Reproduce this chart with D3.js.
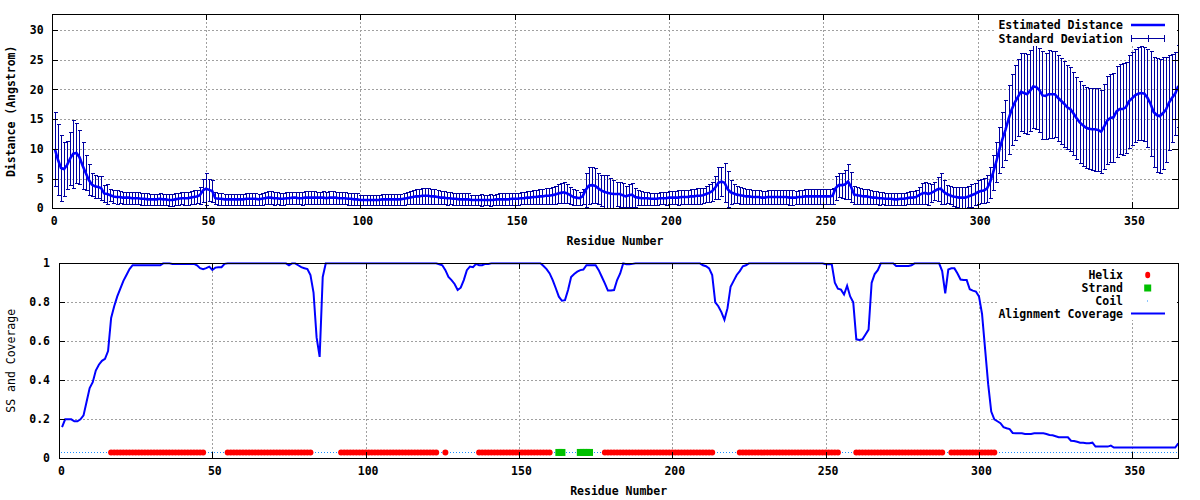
<!DOCTYPE html>
<html><head><meta charset="utf-8">
<script src="https://cdn.jsdelivr.net/npm/d3@7/dist/d3.min.js"></script>
<style>
body{margin:0;background:#fff}
text{font-family:"DejaVu Sans Mono","Liberation Mono",monospace;font-size:11.5px;font-weight:bold;fill:#000}
</style>
</head><body>
<svg id="c" width="1200" height="500"></svg>
<script>
// ---------------- DATA ----------------
const xTicks = [0, 50, 100, 150, 200, 250, 300, 350];
const distTicks = [0, 5, 10, 15, 20, 25, 30];
const covTicks = [0, 0.2, 0.4, 0.6, 0.8, 1];
const covTickLabels = ["0", "0.2", "0.4", "0.6", "0.8", "1"];

// Estimated distance (Angstrom), residues 1..365
const distanceMean = [
10.0,8.2,6.8,6.6,7.3,8.4,9.2,9.3,8.6,7.2,
6.0,4.8,4.0,3.7,3.6,3.4,2.5,2.4,2.2,2.0,
1.9,1.9,1.8,1.8,1.8,1.7,1.7,1.7,1.6,1.6,
1.5,1.5,1.5,1.5,1.6,1.5,1.5,1.4,1.4,1.5,
1.6,1.7,1.7,1.7,1.8,1.9,2.0,2.2,3.0,3.3,
3.1,2.9,1.7,1.6,1.6,1.5,1.5,1.5,1.5,1.5,
1.5,1.5,1.6,1.6,1.6,1.6,1.5,1.6,1.7,1.8,
1.8,1.7,1.7,1.6,1.6,1.7,1.7,1.8,1.8,1.7,
1.7,1.8,1.8,1.8,1.8,1.8,1.8,1.8,1.7,1.8,
1.8,1.8,1.7,1.7,1.7,1.6,1.6,1.5,1.5,1.4,
1.4,1.4,1.4,1.4,1.4,1.4,1.5,1.5,1.5,1.5,
1.5,1.5,1.5,1.6,1.7,1.8,1.9,2.0,2.0,2.1,
2.1,2.1,2.0,2.0,1.9,1.8,1.8,1.7,1.7,1.6,
1.6,1.5,1.5,1.5,1.5,1.4,1.4,1.4,1.4,1.4,
1.4,1.4,1.4,1.5,1.5,1.5,1.5,1.5,1.6,1.6,
1.6,1.7,1.7,1.8,1.8,1.9,1.9,2.0,2.0,2.1,
2.1,2.2,2.3,2.5,2.6,2.7,2.5,2.2,1.9,1.8,
1.7,2.0,3.1,3.8,3.9,3.8,3.4,3.0,2.8,2.6,
2.5,2.4,2.4,2.4,2.2,2.0,2.2,2.3,1.9,1.8,
1.7,1.7,1.7,1.6,1.6,1.6,1.7,1.7,1.7,1.8,
1.8,1.8,1.8,1.9,1.9,1.9,2.0,2.0,2.1,2.1,
2.2,2.4,2.6,2.9,3.5,4.3,4.5,4.3,3.2,2.7,
2.5,2.3,2.2,2.1,2.0,2.0,1.9,1.9,1.9,1.8,
1.8,1.9,1.9,1.9,1.9,1.9,1.9,1.9,1.8,1.8,
1.8,1.9,1.9,2.0,2.0,2.0,2.0,2.0,2.0,2.0,
2.0,2.0,2.1,3.4,3.9,3.9,4.0,4.5,3.6,2.3,
2.2,2.1,2.0,2.0,1.9,1.8,1.8,1.7,1.7,1.6,
1.6,1.6,1.5,1.5,1.6,1.6,1.7,1.8,1.8,1.9,
2.2,2.5,2.6,2.4,2.6,2.9,3.2,3.3,2.8,2.4,
2.2,2.0,1.9,1.8,1.8,1.8,2.0,2.2,2.4,2.7,
2.9,3.0,3.3,4.4,6.0,7.8,9.8,11.6,13.2,15.0,
16.6,17.8,18.7,19.6,19.4,19.2,19.8,20.5,20.4,19.9,
19.0,18.9,19.2,19.2,19.2,18.6,18.1,17.6,17.0,16.7,
16.0,15.2,14.5,14.0,13.6,13.4,13.3,13.3,13.2,12.9,
13.8,14.8,15.2,15.3,16.3,16.7,16.7,17.0,18.0,18.5,
19.0,19.3,19.4,19.3,18.6,17.6,16.2,15.7,15.5,16.0,
16.6,17.8,18.6,19.3,20.6
];

// Standard deviation, residues 1..365
const distanceSD = [
6.2,6.0,5.5,4.6,4.0,4.5,5.7,5.0,4.5,4.0,
3.0,2.6,2.0,1.9,1.9,2.0,1.5,1.7,1.0,1.1,
1.1,1.0,1.0,1.0,1.0,1.0,1.0,1.0,1.0,1.0,
1.0,0.9,0.9,0.9,1.0,0.9,0.9,1.0,1.0,1.0,
1.0,1.0,1.1,1.1,1.1,1.1,1.1,1.4,1.9,2.7,
1.8,1.9,1.0,1.0,1.0,0.9,0.9,0.9,0.9,0.9,
0.9,0.9,1.0,1.0,1.0,1.0,0.9,1.0,1.0,1.1,
1.1,1.1,1.0,1.0,1.0,1.0,1.0,1.0,1.0,1.0,
1.1,1.1,1.1,1.1,1.1,1.0,1.0,1.1,1.0,1.1,
1.1,1.0,1.0,1.0,1.0,1.0,1.0,1.0,1.0,0.9,
0.9,0.9,0.9,0.9,0.9,0.9,0.9,0.9,0.9,0.9,
0.9,0.9,0.9,1.0,1.0,1.1,1.2,1.2,1.2,1.3,
1.3,1.3,1.2,1.2,1.2,1.1,1.1,1.1,1.0,1.0,
1.0,1.0,1.0,1.0,1.0,0.9,0.9,0.9,1.0,0.9,
0.9,1.0,0.9,0.9,1.0,1.0,1.0,1.0,1.0,1.0,
1.0,1.0,1.0,1.1,1.1,1.1,1.1,1.2,1.2,1.3,
1.3,1.4,1.5,1.6,1.7,1.8,1.6,1.4,1.3,1.2,
1.1,1.3,2.8,3.1,3.0,2.9,2.6,2.6,2.8,3.0,
2.6,2.3,2.0,2.1,2.0,1.8,1.9,2.0,1.6,1.3,
1.2,1.1,1.1,1.0,1.0,1.0,1.0,1.0,1.1,1.1,
1.1,1.1,1.2,1.2,1.2,1.2,1.2,1.3,1.3,1.3,
1.3,1.4,1.5,1.6,2.0,2.7,2.5,3.3,3.0,2.0,
1.6,1.4,1.4,1.4,1.3,1.2,1.2,1.2,1.2,1.1,
1.1,1.1,1.1,1.2,1.2,1.2,1.2,1.2,1.2,1.2,
1.1,1.2,1.2,1.3,1.3,1.3,1.2,1.2,1.2,1.2,
1.2,1.2,1.3,2.0,2.0,2.1,2.5,3.0,2.5,1.5,
1.4,1.3,1.2,1.2,1.2,1.1,1.1,1.1,1.0,1.0,
1.0,1.0,1.0,1.0,1.0,1.0,1.0,1.1,1.1,1.2,
1.4,1.7,1.9,1.8,1.5,1.5,2.0,2.6,2.0,1.5,
1.5,1.6,1.7,1.8,1.8,1.8,1.8,1.9,1.9,2.0,
2.0,2.1,2.3,2.6,3.0,3.4,3.8,4.6,5.0,5.8,
6.0,6.3,6.5,6.6,6.8,6.7,6.8,7.0,7.0,7.1,
7.4,7.3,7.4,7.3,7.2,7.2,7.2,7.2,7.1,7.0,
7.0,6.9,6.9,6.8,6.8,6.8,6.9,7.0,7.0,7.0,
7.2,7.4,7.4,7.5,7.6,7.6,7.7,7.7,7.8,7.8,
7.8,7.8,7.9,7.9,8.2,8.8,9.3,9.6,9.6,9.4,
8.8,8.0,7.4,7.0,6.9
];

// Alignment coverage, residues 1..365
const coverage = [
0.16,0.20,0.20,0.20,0.19,0.19,0.20,0.22,0.29,0.36,
0.39,0.45,0.48,0.50,0.51,0.55,0.72,0.78,0.83,0.87,
0.91,0.94,0.97,0.99,0.99,0.99,0.99,0.99,0.99,0.99,
0.99,0.99,0.99,1,1,1,0.997,0.997,0.997,0.997,
0.997,0.997,0.997,0.997,0.99,0.975,0.97,0.975,0.983,0.966,
0.978,0.98,0.98,0.997,1,1,1,1,1,1,
1,1,1,1,1,1,1,1,1,1,
1,1,1,1,0.99,1,1,0.99,0.98,0.975,
0.97,0.94,0.85,0.62,0.52,0.93,1,1,1,1,
1,1,1,1,1,1,1,1,1,1,
1,1,1,1,1,1,1,1,1,1,
1,1,1,1,1,1,1,1,1,1,
1,1,1,0.995,0.99,0.965,0.93,0.914,0.894,0.863,
0.875,0.914,0.965,0.983,0.98,0.997,0.99,0.99,0.997,0.997,
1,1,1,1,1,1,1,1,1,1,
1,1,1,1,1,1,1,0.986,0.97,0.948,
0.914,0.872,0.829,0.808,0.811,0.863,0.93,0.945,0.957,0.965,
0.968,0.99,0.99,0.99,0.99,0.965,0.931,0.897,0.86,0.86,
0.863,0.914,0.948,1,0.995,0.995,0.997,1,1,1,
1,1,1,1,1,1,1,1,1,1,
1,1,1,1,1,1,1,1,1,0.99,
0.985,0.974,0.94,0.80,0.78,0.75,0.71,0.77,0.88,0.91,
0.94,0.96,0.985,0.99,1,1,1,1,1,1,
1,1,1,1,1,1,1,1,1,1,
1,1,1,1,1,1,1,1,1,0.995,
0.995,0.995,0.90,0.87,0.865,0.84,0.885,0.83,0.80,0.61,
0.607,0.61,0.635,0.66,0.90,0.945,0.965,1,1,1,
1,1,0.986,0.986,0.986,0.986,0.986,0.99,1,1,
1,1,1,1,1,1,1,0.96,0.846,0.968,
0.974,0.974,0.948,0.917,0.914,0.914,0.867,0.86,0.855,0.83,
0.74,0.56,0.38,0.24,0.20,0.19,0.18,0.16,0.154,0.15,
0.13,0.128,0.128,0.128,0.125,0.125,0.125,0.128,0.128,0.128,
0.128,0.125,0.12,0.118,0.113,0.108,0.108,0.108,0.108,0.09,
0.089,0.085,0.08,0.08,0.077,0.077,0.08,0.06,0.06,0.06,
0.06,0.06,0.065,0.055,0.055,0.055,0.055,0.055,0.055,0.055,
0.055,0.055,0.055,0.055,0.055,0.055,0.055,0.055,0.055,0.055,
0.055,0.055,0.055,0.055,0.077
];

// Secondary structure segments [first residue, last residue]
const helixSegments = [[17,47],[55,82],[92,123],[126,126],[137,160],[178,213],[222,254],[260,288],[291,305]];
const strandSegments = [[163,164],[170,173]];
const coilSegments = [[1,16],[48,54],[83,91],[124,125],[127,136],[161,162],[165,169],[174,177],[214,221],[255,259],[289,290],[306,365]];
const ssLevel = 0.03;

// ---------------- DRAW ----------------
const svg = d3.select("#c");
const P1 = {l:51.7, r:1178.3, t:14.3, b:208.3};
const P2 = {l:59, r:1178.3, t:263.3, b:458.3};

const x1 = d3.scaleLinear().domain([0,365]).range([P1.l,P1.r]);
const y1 = d3.scaleLinear().domain([0,32.65]).range([P1.b,P1.t]);
const x2 = d3.scaleLinear().domain([0,365]).range([P2.l,P2.r]);
const y2 = d3.scaleLinear().domain([0,1]).range([P2.b,P2.t]);

const gridColor = "#a0a0a0";
function grid(g, xs, ys, P, xt, yt){
  g.selectAll("line.gx").data(xt.filter(d=>xs(d)>P.l+1 && xs(d)<P.r-1)).enter().append("line")
    .attr("x1",d=>Math.round(xs(d))+0.5).attr("x2",d=>Math.round(xs(d))+0.5)
    .attr("y1",P.t).attr("y2",P.b)
    .attr("stroke",gridColor).attr("stroke-dasharray","2,2").attr("shape-rendering","crispEdges");
  g.selectAll("line.gy").data(yt.filter(d=>ys(d)<P.b-1 && ys(d)>P.t+1)).enter().append("line")
    .attr("y1",d=>Math.round(ys(d))+0.5).attr("y2",d=>Math.round(ys(d))+0.5)
    .attr("x1",P.l).attr("x2",P.r)
    .attr("stroke",gridColor).attr("stroke-dasharray","2,2").attr("shape-rendering","crispEdges");
}

function axes(g, xs, ys, P, xt, yt, yfmt, ypad){
  const TS = -6;
  const ax = g.append("g").attr("transform",`translate(0,${P.b})`)
    .call(d3.axisBottom(xs).tickValues(xt).tickSizeInner(TS).tickSizeOuter(0).tickPadding(9).tickFormat(d3.format("d")));
  ax.selectAll("text").attr("dx",2);
  g.append("g").attr("transform",`translate(0,${P.t})`)
    .call(d3.axisTop(xs).tickValues(xt).tickSizeInner(TS).tickSizeOuter(0).tickFormat(""));
  g.append("g").attr("transform",`translate(${P.l},0)`)
    .call(d3.axisLeft(ys).tickValues(yt).tickSizeInner(TS).tickSizeOuter(0).tickPadding(ypad).tickFormat(yfmt));
  g.append("g").attr("transform",`translate(${P.r},0)`)
    .call(d3.axisRight(ys).tickValues(yt).tickSizeInner(TS).tickSizeOuter(0).tickFormat(""));
  g.selectAll(".domain").remove();
  g.selectAll(".tick line").attr("stroke","#000").attr("shape-rendering","crispEdges");
  g.selectAll(".tick text").attr("font-family",null).attr("font-size",null).style("fill","#000");
  g.selectAll("g").attr("font-family",null).attr("font-size",null);
  g.append("rect").attr("x",Math.round(P.l)+0.5).attr("y",Math.round(P.t)+0.5)
    .attr("width",Math.round(P.r)-Math.round(P.l)).attr("height",Math.round(P.b)-Math.round(P.t))
    .attr("fill","none").attr("stroke","#000").attr("shape-rendering","crispEdges");
}

// ===== Top chart =====
const g1 = svg.append("g");
grid(g1, x1, y1, P1, xTicks, distTicks);

const clip1 = svg.append("clipPath").attr("id","clip1").append("rect")
  .attr("x",P1.l).attr("y",P1.t).attr("width",P1.r-P1.l).attr("height",P1.b-P1.t);
const d1 = g1.append("g").attr("clip-path","url(#clip1)");

const errColor = "#0000a0";
const eb = d1.append("g").attr("stroke",errColor).attr("stroke-width",1).attr("shape-rendering","crispEdges");
distanceMean.forEach((m,i)=>{
  const r = i+1, sd = distanceSD[i];
  const cx = Math.round(x1(r))+0.5;
  const yt = Math.round(y1(m+sd))+0.5, yb = Math.round(y1(Math.max(0,m-sd)))+0.5;
  eb.append("line").attr("x1",cx).attr("x2",cx).attr("y1",yt).attr("y2",yb);
  eb.append("line").attr("x1",cx-2).attr("x2",cx+2).attr("y1",yt).attr("y2",yt);
  eb.append("line").attr("x1",cx-2).attr("x2",cx+2).attr("y1",yb).attr("y2",yb);
});
d1.append("path").datum(distanceMean)
  .attr("d", d3.line().x((d,i)=>x1(i+1)).y(d=>y1(d)))
  .attr("fill","none").attr("stroke","#0000ff").attr("stroke-width",2.6).attr("stroke-linejoin","miter");

axes(g1, x1, y1, P1, xTicks, distTicks, d3.format("d"), 8);

// key
g1.append("rect").attr("x",995).attr("y",15).attr("width",182).attr("height",31).attr("fill","#fff");
g1.append("text").attr("x",1123).attr("y",25).attr("dy","0.35em").attr("text-anchor","end").text("Estimated Distance");
g1.append("line").attr("x1",1131).attr("x2",1165).attr("y1",25).attr("y2",25).attr("stroke","#0000ff").attr("stroke-width",2.6);
g1.append("text").attr("x",1123).attr("y",38.5).attr("dy","0.35em").attr("text-anchor","end").text("Standard Deviation");
const ek = g1.append("g").attr("stroke",errColor).attr("shape-rendering","crispEdges");
ek.append("line").attr("x1",1131).attr("x2",1165).attr("y1",38.5).attr("y2",38.5);
[1131.5,1148.5,1164.5].forEach(xx=>ek.append("line").attr("x1",xx).attr("x2",xx).attr("y1",35).attr("y2",42));

g1.append("text").attr("x",(P1.l+P1.r)/2).attr("y",240.7).attr("dy","0.35em").attr("text-anchor","middle").text("Residue Number");
g1.append("text").attr("transform",`translate(11,${(P1.t+P1.b)/2}) rotate(-90)`).attr("dy","0.35em").attr("text-anchor","middle").text("Distance (Angstrom)");

// ===== Bottom chart =====
const g2 = svg.append("g");
grid(g2, x2, y2, P2, xTicks, covTicks);
svg.append("clipPath").attr("id","clip2").append("rect")
  .attr("x",P2.l).attr("y",P2.t-1).attr("width",P2.r-P2.l).attr("height",P2.b-P2.t+2);
const d2 = g2.append("g").attr("clip-path","url(#clip2)");

const coilColor = "#1e90ff";
const ssY = y2(ssLevel);
coilSegments.forEach(([a,b])=>{
  d2.append("line").attr("x1",x2(a-0.5)).attr("x2",x2(b+0.5)).attr("y1",Math.round(ssY)+0.5).attr("y2",Math.round(ssY)+0.5)
    .attr("stroke",coilColor).attr("stroke-width",1).attr("stroke-dasharray","1,2").attr("shape-rendering","crispEdges");
});
helixSegments.forEach(([a,b])=>{
  d2.selectAll(null).data(d3.range(a,b+1)).enter().append("circle")
    .attr("cx",d=>x2(d)).attr("cy",ssY).attr("r",3).attr("fill","#ff0000");
});
strandSegments.forEach(([a,b])=>{
  d2.selectAll(null).data(d3.range(a,b+1)).enter().append("rect")
    .attr("x",d=>x2(d)-3.5).attr("y",ssY-3.5).attr("width",7).attr("height",7).attr("fill","#00c000");
});
d2.append("path").datum(coverage)
  .attr("d", d3.line().x((d,i)=>x2(i+1)).y(d=>y2(d)))
  .attr("fill","none").attr("stroke","#0000ff").attr("stroke-width",2).attr("stroke-linejoin","miter");

axes(g2, x2, y2, P2, xTicks, covTicks, (d,i)=>covTickLabels[i], 9);

// key
g2.append("rect").attr("x",997).attr("y",264).attr("width",180).attr("height",56).attr("fill","#fff");
const kRows = [["Helix",275],["Strand",288],["Coil",301],["Alignment Coverage",313.5]];
kRows.forEach(([t,yy])=>g2.append("text").attr("x",1123).attr("y",yy).attr("dy","0.35em").attr("text-anchor","end").text(t));
g2.append("ellipse").attr("cx",1147.7).attr("cy",275).attr("rx",2.5).attr("ry",3.3).attr("fill","#ff0000");
g2.append("rect").attr("x",1144.2).attr("y",284.5).attr("width",7).attr("height",7).attr("fill","#00c000");
g2.append("rect").attr("x",1147).attr("y",300.5).attr("width",1).attr("height",1).attr("fill",coilColor);
g2.append("line").attr("x1",1131).attr("x2",1165).attr("y1",313.5).attr("y2",313.5).attr("stroke","#0000ff").attr("stroke-width",2);

g2.append("text").attr("x",(P2.l+P2.r)/2).attr("y",490.7).attr("dy","0.35em").attr("text-anchor","middle").text("Residue Number");
g2.append("text").attr("transform",`translate(11,${(P2.t+P2.b)/2}) rotate(-90)`).attr("dy","0.35em").attr("text-anchor","middle")
  .style("font-weight","normal").text("SS and Coverage");
</script>
</body></html>
